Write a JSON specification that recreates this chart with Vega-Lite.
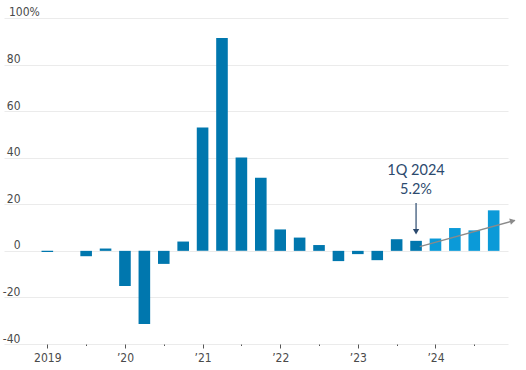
{
  "$schema": "https://vega.github.io/schema/vega-lite/v6.json",
  "width": 504,
  "height": 326,
  "autosize": "none",
  "padding": {"left": 4, "top": 18, "right": 18, "bottom": 26},
  "background": "white",
  "config": {
    "view": {"stroke": null},
    "font": "Liberation Sans Narrow, DejaVu Sans Condensed, sans-serif"
  },
  "datasets": {
    "bars": [
      {"i": 0, "v": -0.5, "type": "actual"},
      {"i": 1, "v": 0, "type": "actual"},
      {"i": 2, "v": -2.3, "type": "actual"},
      {"i": 3, "v": 1.0, "type": "actual"},
      {"i": 4, "v": -15.1, "type": "actual"},
      {"i": 5, "v": -31.4, "type": "actual"},
      {"i": 6, "v": -5.6, "type": "actual"},
      {"i": 7, "v": 4.0, "type": "actual"},
      {"i": 8, "v": 53.0, "type": "actual"},
      {"i": 9, "v": 91.4, "type": "actual"},
      {"i": 10, "v": 40.1, "type": "actual"},
      {"i": 11, "v": 31.4, "type": "actual"},
      {"i": 12, "v": 9.2, "type": "actual"},
      {"i": 13, "v": 5.7, "type": "actual"},
      {"i": 14, "v": 2.5, "type": "actual"},
      {"i": 15, "v": -4.4, "type": "actual"},
      {"i": 16, "v": -1.4, "type": "actual"},
      {"i": 17, "v": -4.0, "type": "actual"},
      {"i": 18, "v": 5.0, "type": "actual"},
      {"i": 19, "v": 4.3, "type": "actual"},
      {"i": 20, "v": 5.3, "type": "forecast"},
      {"i": 21, "v": 9.8, "type": "forecast"},
      {"i": 22, "v": 8.8, "type": "forecast"},
      {"i": 23, "v": 17.4, "type": "forecast"}
    ],
    "trend": [
      {"i": 19.19, "v": 1.8},
      {"i": 24.1, "v": 13.1}
    ],
    "trendHead": [
      {"i": 23.98, "v": 12.85}
    ],
    "callout": [
      {"i": 19, "v": 20.6},
      {"i": 19, "v": 8.5}
    ],
    "calloutHead": [
      {"i": 19, "v": 8.2}
    ],
    "labels": [
      {"i": 19, "v": 34.3, "t": "1Q 2024"},
      {"i": 19, "v": 26.1, "t": "5.2%"}
    ],
    "top": [
      {"i": -1.975, "v": 100, "t": "100%"}
    ]
  },
  "layer": [
    {
      "data": {"name": "bars"},
      "mark": {"type": "bar", "size": 11.6},
      "encoding": {
        "x": {
          "field": "i",
          "type": "quantitative",
          "scale": {"domain": [-1.975, 23.48], "nice": false, "zero": false},
          "axis": {
            "orient": "bottom",
            "title": null,
            "grid": false,
            "domain": false,
            "values": [0,1,2,3,4,5,6,7,8,9,10,11,12,13,14,15,16,17,18,19,20,21,22,23],
            "tickColor": "#555555",
            "tickWidth": 1,
            "tickSize": {"condition": {"test": "datum.value % 4 === 0", "value": 4}, "value": 1.5},
            "labelExpr": "datum.value % 4 === 0 ? (datum.value === 0 ? '2019' : '\u2019' + (19 + datum.value / 4)) : ''",
            "labelPadding": 4,
            "labelFontSize": 12,
            "labelColor": "#4a4a4a",
            "labelBaseline": "top"
          }
        },
        "y": {
          "field": "v",
          "type": "quantitative",
          "scale": {"domain": [-40, 100], "nice": false},
          "axis": {
            "title": null,
            "values": [-40, -20, 0, 20, 40, 60, 80, 100],
            "grid": true,
            "gridColor": "#ebebeb",
            "gridWidth": 1,
            "domain": false,
            "ticks": false,
            "tickSize": 0,
            "labelAlign": "right",
            "labelBaseline": "alphabetic",
            "labelOffset": -2,
            "labelPadding": -16,
            "labelExpr": "datum.value === 100 ? '' : '' + datum.value",
            "labelFontSize": 12,
            "labelColor": "#4a4a4a"
          }
        },
        "color": {
          "field": "type",
          "type": "nominal",
          "scale": {"domain": ["actual", "forecast"], "range": ["#0077ae", "#0b9ad8"]},
          "legend": null
        }
      }
    },
    {
      "data": {"name": "top"},
      "mark": {"type": "text", "align": "left", "baseline": "alphabetic", "dy": -2, "fontSize": 12, "color": "#4a4a4a"},
      "encoding": {
        "x": {"field": "i", "type": "quantitative"},
        "y": {"field": "v", "type": "quantitative"},
        "text": {"field": "t"}
      }
    },
    {
      "mark": {"type": "rule", "color": "#777777", "strokeWidth": 1},
      "encoding": {"y": {"datum": 0}}
    },
    {
      "data": {"name": "trend"},
      "mark": {"type": "line", "color": "#8a8a8a", "strokeWidth": 1.3, "clip": false},
      "encoding": {
        "x": {"field": "i", "type": "quantitative"},
        "y": {"field": "v", "type": "quantitative"}
      }
    },
    {
      "data": {"name": "trendHead"},
      "mark": {"type": "point", "shape": "triangle-right", "filled": true, "color": "#8a8a8a", "size": 40, "angle": -15, "opacity": 1, "clip": false},
      "encoding": {
        "x": {"field": "i", "type": "quantitative"},
        "y": {"field": "v", "type": "quantitative"}
      }
    },
    {
      "data": {"name": "callout"},
      "mark": {"type": "line", "color": "#2c4a6e", "strokeWidth": 1.2},
      "encoding": {
        "x": {"field": "i", "type": "quantitative"},
        "y": {"field": "v", "type": "quantitative"}
      }
    },
    {
      "data": {"name": "calloutHead"},
      "mark": {"type": "point", "shape": "triangle-down", "filled": true, "color": "#2c4a6e", "size": 40, "opacity": 1},
      "encoding": {
        "x": {"field": "i", "type": "quantitative"},
        "y": {"field": "v", "type": "quantitative"}
      }
    },
    {
      "data": {"name": "labels"},
      "mark": {"type": "text", "align": "center", "baseline": "middle", "font": "Lato", "fontSize": 14.5, "color": "#2c4a6e"},
      "encoding": {
        "x": {"field": "i", "type": "quantitative"},
        "y": {"field": "v", "type": "quantitative"},
        "text": {"field": "t"}
      }
    }
  ]
}
